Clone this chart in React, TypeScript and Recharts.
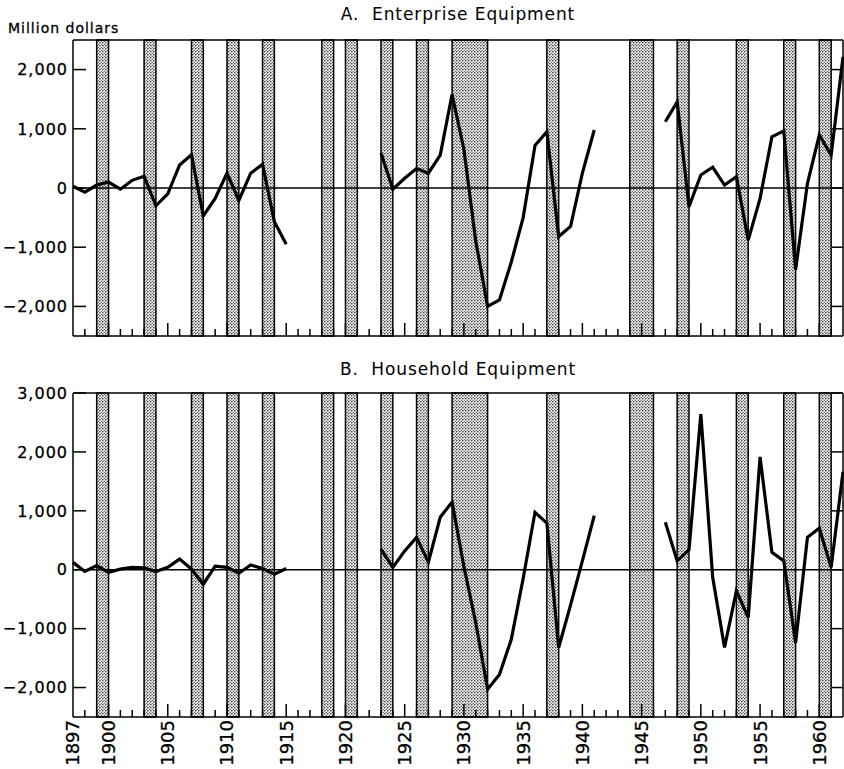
import React from 'react';
import { LineChart, Line, XAxis, YAxis, ReferenceArea, ReferenceLine } from 'recharts';

const years: number[] = [];
for (let y = 1897; y <= 1962; y++) years.push(y);

// Million dollars, null where the series has a gap
const enterprise = [
  30, -70, 50, 100, -20, 130, 200, -300, -100, 390, 560, -470, -175, 250, -210, 250, 400, -570, -950,
  null, null, null, null, null, null, null,
  590, -20, 165, 330, 250, 555, 1580, 650, -900, -2000, -1890, -1250, -500, 720, 950, -820, -650, 250, 980,
  null, null, null, null, null,
  1120, 1455, -315, 220, 350, 50, 190, -880, -175, 865, 965, -1380, 80, 895, 555, 2215,
];

const household = [
  125, -30, 70, -45, 10, 40, 30, -30, 40, 180, 10, -245, 60, 40, -60, 80, 20, -75, 20,
  null, null, null, null, null, null, null,
  350, 40, 320, 550, 130, 890, 1150, 50, -900, -2030, -1780, -1180, -150, 975, 790, -1320, -600, 150, 920,
  null, null, null, null, null,
  805, 150, 340, 2640, -130, -1320, -360, -810, 1915, 295, 150, -1240, 550, 705, 40, 1660,
];

// shaded periods
const bandStarts = [1899, 1903, 1907, 1910, 1913, 1918, 1920, 1923, 1926, 1929, 1937, 1944, 1948, 1953, 1957, 1960];
const bandEnds = [1900, 1904, 1908, 1911, 1914, 1919, 1921, 1924, 1927, 1932, 1938, 1946, 1949, 1954, 1958, 1961];

const yearLabels = [1897, 1900, 1905, 1910, 1915, 1920, 1925, 1930, 1935, 1940, 1945, 1950, 1955, 1960];
const ticksA = [-2000, -1000, 0, 1000, 2000];
const ticksB = [-2000, -1000, 0, 1000, 2000, 3000];

const X_MIN = 1897;
const X_MAX = 1962;

const CHART_W = 844;
const AXIS_W = 73;
const PLOT_W = CHART_W - AXIS_W - 1;

const dataA = years.map((year, i) => ({ year, v: enterprise[i] }));
const dataB = years.map((year, i) => ({ year, v: household[i] }));

const FONT = '"DejaVu Sans", sans-serif';

const fmt = (v: number) => (v < 0 ? '\u2212' : '') + Math.abs(v).toLocaleString('en-US');

// left label + inward tick, plus the matching inward tick on the right frame
const LeftTick = (props: any) => {
  const { x, y, payload } = props;
  const ax = x + 5;
  return (
    <g>
      <line x1={ax} x2={ax + 13} y1={y} y2={y} stroke="#000" strokeWidth={1.5} />
      <line x1={ax + PLOT_W - 11} x2={ax + PLOT_W} y1={y} y2={y} stroke="#000" strokeWidth={1.5} />
      <text x={x} y={y} dy="0.36em" textAnchor="end" fontSize={16} letterSpacing={1} fontFamily={FONT} fill="#000" stroke="#000" strokeWidth={0.3}>
        {fmt(payload.value)}
      </text>
    </g>
  );
};

const makeYearTick = (withLabels: boolean) => (props: any) => {
  const { x, y, payload } = props;
  const yr = payload.value as number;
  const major = yr % 5 === 0;
  const showLabel = withLabels && yearLabels.includes(yr);
  return (
    <g>
      {yr !== X_MIN && yr !== X_MAX && (
        <line x1={x} x2={x} y1={y} y2={y - (major ? 13 : 7)} stroke="#000" strokeWidth={1.5} />
      )}
      {showLabel && (
        <text
          x={x}
          y={y + 3}
          dy="0.36em"
          textAnchor="end"
          transform={`rotate(-90, ${x}, ${y + 3})`}
          fontSize={18}
          fontFamily={FONT}
          fill="#000"
          stroke="#000"
          strokeWidth={0.3}
        >
          {yr}
        </text>
      )}
    </g>
  );
};

const Dots = ({ id }: { id: string }) => (
  <svg width={0} height={0} style={{ position: 'absolute' }}>
    <defs>
      <pattern id={id} width={3} height={3} patternUnits="userSpaceOnUse">
        <rect width={3} height={3} fill="#eeeeee" />
        <circle cx={0.8} cy={0.8} r={0.8} fill="#222" />
        <circle cx={2.3} cy={2.3} r={0.65} fill="#444" />
      </pattern>
    </defs>
  </svg>
);

interface PanelProps {
  data: { year: number; v: number | null }[];
  domain: [number, number];
  ticks: number[];
  height: number;
  top: number;
  bottomAxis: number;
  labels: boolean;
  pid: string;
}

function Panel({ data, domain, ticks, height, top, bottomAxis, labels, pid }: PanelProps) {
  return (
    <LineChart width={CHART_W} height={height} data={data} margin={{ top, right: 1, bottom: 0, left: 0 }}>
      {bandStarts.map((s, i) => (
        <ReferenceArea
          key={s}
          x1={s}
          x2={bandEnds[i]}
          y1={domain[0]}
          y2={domain[1]}
          fill={`url(#${pid})`}
          fillOpacity={1}
          stroke="#000"
          strokeWidth={1.5}
        />
      ))}
      <ReferenceLine y={0} stroke="#000" strokeWidth={1.3} />
      <ReferenceLine y={domain[1]} stroke="#000" strokeWidth={1.5} />
      <ReferenceLine x={X_MAX} stroke="#000" strokeWidth={1.5} />
      <XAxis
        dataKey="year"
        type="number"
        domain={[X_MIN, X_MAX]}
        ticks={years}
        interval={0}
        height={bottomAxis}
        tickLine={false}
        tickSize={0}
        tickMargin={0}
        axisLine={{ stroke: '#000', strokeWidth: 1.5 }}
        tick={makeYearTick(labels)}
      />
      <YAxis
        domain={domain}
        ticks={ticks}
        interval={0}
        width={AXIS_W}
        allowDataOverflow
        tickLine={false}
        tickSize={0}
        tickMargin={5}
        axisLine={{ stroke: '#000', strokeWidth: 1.5 }}
        tick={<LeftTick />}
      />
      <Line
        dataKey="v"
        stroke="#000"
        strokeWidth={3.2}
        dot={false}
        isAnimationActive={false}
        strokeLinejoin="miter"
      />
    </LineChart>
  );
}

const titleStyle: React.CSSProperties = {
  position: 'absolute',
  left: 0,
  width: 916,
  textAlign: 'center',
  fontFamily: FONT,
  fontSize: 17,
  lineHeight: '17px',
  letterSpacing: 0.9,
  whiteSpace: 'pre',
  color: '#000',
};

export default function App() {
  return (
    <div style={{ position: 'absolute', left: 0, top: 0, width: 844, height: 769, background: '#fff', overflow: 'hidden' }}>
      <Dots id="dots" />
      <div style={{ ...titleStyle, top: 6 }}>A.  Enterprise Equipment</div>
      <div
        style={{
          position: 'absolute',
          left: 8,
          top: 21,
          fontFamily: FONT,
          fontSize: 14,
          lineHeight: '14px',
          letterSpacing: 1,
          color: '#000',
          WebkitTextStroke: '0.3px #000',
        }}
      >
        Million dollars
      </div>
      <div style={{ position: 'absolute', left: 0, top: 0 }}>
        <Panel data={dataA} domain={[-2500, 2500]} ticks={ticksA} height={340} top={40} bottomAxis={4} labels={false} pid="dots" />
      </div>
      <div style={{ ...titleStyle, top: 361 }}>B.  Household Equipment</div>
      <div style={{ position: 'absolute', left: 0, top: 350 }}>
        <Panel data={dataB} domain={[-2500, 3000]} ticks={ticksB} height={419} top={43} bottomAxis={52} labels pid="dots" />
      </div>
    </div>
  );
}
